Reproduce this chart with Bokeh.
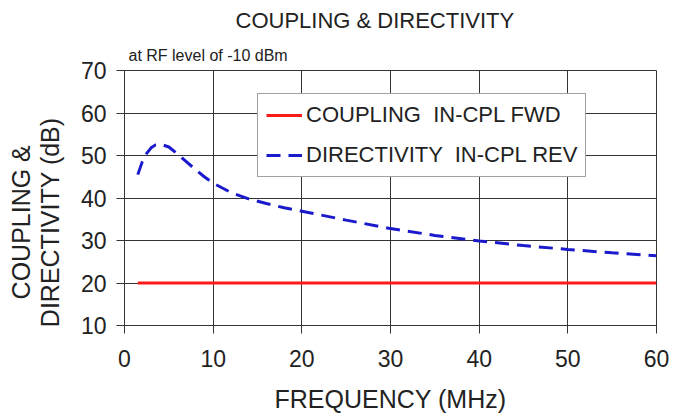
from bokeh.plotting import figure
from bokeh.models import Title, Legend, LegendItem, FixedTicker, Range1d
from bokeh.embed import file_html
from bokeh.resources import INLINE

# Data
freq_dir = [1.5, 2, 2.5, 3, 3.5, 4, 5, 6, 7, 8, 9, 10, 12, 14, 16, 18, 20,
            25, 30, 35, 40, 45, 50, 55, 60]
directivity = [45.5, 48.5, 50.5, 51.8, 52.5, 52.7, 52.0, 50.3, 48.5, 46.7, 45.0,
               43.5, 41.3, 39.8, 38.7, 37.7, 36.9, 34.8, 32.8, 31.2, 29.9, 28.8,
               27.9, 27.1, 26.4]
freq_cpl = [1.5, 10, 20, 30, 40, 50, 60]
coupling = [20.0, 20.0, 20.0, 20.0, 20.0, 20.0, 20.0]
x_ticks = [0, 10, 20, 30, 40, 50, 60]
y_ticks = [10, 20, 30, 40, 50, 60, 70]

FONT = "Liberation Sans"
TXT = "#222222"
PAD = "\u00a0" * 7

p = figure(width=684, height=416, output_backend="svg", toolbar_location=None,
           x_range=Range1d(0, 60), y_range=Range1d(10, 70),
           min_border_left=124, min_border_right=28, min_border_top=70,
           min_border_bottom=91, title=None)

p.add_layout(Title(text="at RF level of -10 dBm", align="left", offset=4,
                   text_font=FONT, text_font_size="16px", text_font_style="normal",
                   text_color=TXT, standoff=13), "above")
p.add_layout(Title(text="COUPLING & DIRECTIVITY", align="left", offset=111,
                   text_font=FONT, text_font_size="22px", text_font_style="normal",
                   text_color=TXT, standoff=11), "above")

r_cpl = p.line(freq_cpl, coupling, line_color="#ff1a1a", line_width=3)
r_dir = p.line(freq_dir, directivity, line_color="#1a1acc", line_width=3,
               line_dash="14 8")

for ax in (p.xaxis[0], p.yaxis[0]):
    ax.major_label_text_font = FONT
    ax.major_label_text_font_size = "23px"
    ax.major_label_text_color = TXT
    ax.axis_label_text_font = FONT
    ax.axis_label_text_font_style = "normal"
    ax.axis_label_text_color = TXT
    ax.axis_line_color = "#333333"
    ax.major_tick_line_color = "#333333"
    ax.major_tick_out = 8
    ax.major_tick_in = 0
    ax.minor_tick_line_color = None

p.xaxis.ticker = FixedTicker(ticks=x_ticks)
p.yaxis.ticker = FixedTicker(ticks=y_ticks)
p.xaxis.axis_label = "FREQUENCY (MHz)"
p.xaxis.axis_label_text_font_size = "25px"
p.xaxis.major_label_standoff = 16
p.xaxis.axis_label_standoff = 15

p.yaxis.axis_label = "COUPLING &" + PAD + "\n" + "DIRECTIVITY (dB)" + PAD
p.yaxis.axis_label_text_font_size = "25px"
p.yaxis.axis_label_text_line_height = 1.05
p.yaxis.major_label_standoff = 10
p.yaxis.axis_label_standoff = 14

p.grid.grid_line_color = "#333333"
p.grid.grid_line_alpha = 1.0
p.grid.grid_line_width = 1
p.outline_line_color = "#333333"
p.outline_line_width = 1

legend = Legend(items=[LegendItem(label="COUPLING  IN-CPL FWD", renderers=[r_cpl]),
                       LegendItem(label="DIRECTIVITY  IN-CPL REV", renderers=[r_dir])],
                location=(133, 148))
legend.label_text_font = FONT
legend.label_text_font_size = "22px"
legend.label_text_color = TXT
legend.glyph_width = 36
legend.glyph_height = 24
legend.label_height = 24
legend.label_standoff = 4
legend.spacing = 14
legend.padding = 8
legend.margin = 0
legend.border_line_color = "#444444"
legend.border_line_width = 1.5
legend.background_fill_alpha = 1.0
p.add_layout(legend, "center")

open("out.html", "w").write(file_html(p, INLINE))
